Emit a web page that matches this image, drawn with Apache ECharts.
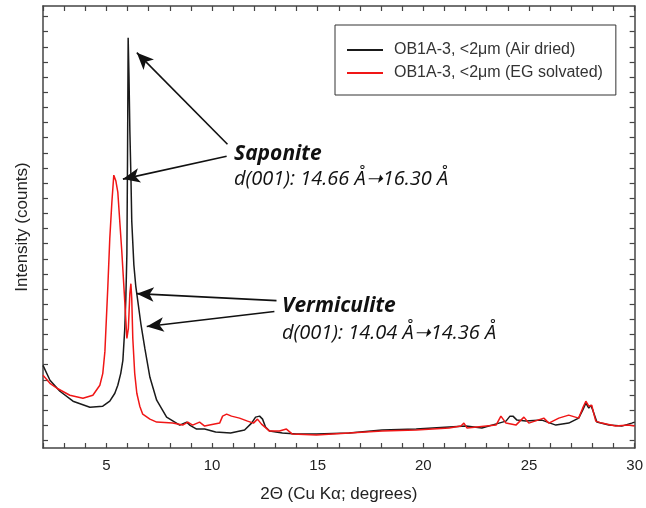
<!DOCTYPE html>
<html>
<head>
<meta charset="utf-8">
<script src="https://cdn.jsdelivr.net/npm/echarts@6/dist/echarts.min.js"></script>
<style>
  html, body { margin: 0; padding: 0; background: #fff; }
  #main { width: 646px; height: 508px; }
</style>
</head>
<body>
<div id="main"></div>
<script>
// 2θ (degrees) and intensity (counts)
var airDried = [
  [2.00,4961],[2.33,3974],[2.80,3250],[3.42,2592],[4.22,2197],[4.83,2263],[5.16,2592],
  [5.40,3118],[5.54,3645],[5.68,4434],[5.78,5290],[5.87,7395],[5.92,9368],[5.97,12329],
  [6.00,18579],[6.03,26605],[6.07,24000],[6.11,20500],[6.16,17500],[6.20,14500],
  [6.30,11600],[6.39,10200],[6.49,9171],[6.63,7724],[6.82,6079],[7.06,4171],[7.38,2658],
  [7.85,1539],[8.47,1013],[8.80,1211],[8.94,1013],[9.27,750],[9.65,750],[10.17,553],
  [10.88,487],[11.54,684],[11.87,1145],[12.06,1539],[12.25,1605],[12.39,1408],[12.53,882],
  [12.72,618],[13.33,487],[13.99,421],[14.94,421],[16.49,487],[18.05,684],[19.66,750],
  [21.22,882],[22.02,947],[22.77,816],[23.58,1145],[23.91,1276],[24.10,1605],[24.24,1605],
  [24.43,1342],[24.85,1276],[25.61,1342],[26.27,1013],[26.88,1145],[27.35,1474],[27.54,2000],
  [27.69,2461],[27.83,2132],[27.92,2329],[28.02,2000],[28.21,1211],[28.78,1013],[29.39,947],
  [29.86,1145],[30.00,1211]
];

var egSolvated = [
  [2.00,4303],[2.33,3776],[2.66,3447],[3.27,2987],[3.89,2790],[4.36,2987],[4.69,3645],
  [4.83,4434],[4.93,5882],[5.07,10224],[5.16,13316],[5.26,15750],[5.35,17526],[5.45,17132],
  [5.54,16408],[5.73,12461],[5.87,9171],[5.97,6737],[6.04,7395],[6.11,9697],[6.16,10355],
  [6.20,9368],[6.25,6737],[6.34,4434],[6.44,3118],[6.58,2263],[6.72,1737],[7.06,1408],
  [7.38,1211],[8.14,1145],[8.61,1013],[8.85,1211],[9.08,1013],[9.41,1211],[9.65,947],
  [9.88,1013],[10.36,1145],[10.50,1605],[10.69,1737],[10.92,1605],[11.30,1474],[11.68,1276],
  [11.96,1145],[12.15,1408],[12.34,1079],[12.72,618],[13.19,618],[13.52,750],[13.80,421],
  [14.94,355],[16.49,487],[18.05,618],[19.66,684],[21.22,816],[21.78,947],[21.92,1145],
  [22.07,816],[23.44,1013],[23.67,1605],[23.91,1145],[24.38,1013],[24.76,1539],[24.99,1145],
  [25.70,1474],[25.94,1145],[26.41,1474],[26.88,1671],[27.35,1474],[27.54,2132],[27.69,2592],
  [27.83,2263],[27.97,2329],[28.06,1803],[28.16,1276],[28.44,1145],[29.10,947],[29.72,1013],
  [30.00,947]
];

var seriesNames = ["OB1A-3, <2\u03bcm (Air dried)", "OB1A-3, <2\u03bcm (EG solvated)"];
var xLabels = [5, 10, 15, 20, 25, 30];
var yTicks = [];
for (var t = 0; t <= 28000; t += 1000) yTicks.push(t);

// annotation arrows: [tail, head] in data coords
var arrows = [
  [[10.73,19566],[6.44,25619]],
  [[10.69,18776],[5.78,17263]],
  [[13.05,9237],[6.44,9697]],
  [[12.95,8513],[6.91,7526]]
];

var AXIS_COLOR = "#444";
var FONT = "Liberation Sans";

var myChart = echarts.init(document.getElementById('main'));

function frameAxis(extra) {
  var base = {
    axisLine: { show: true, onZero: false, lineStyle: { color: AXIS_COLOR, width: 1.5 } },
    axisTick: { show: true, inside: true, length: 5, lineStyle: { color: AXIS_COLOR, width: 1.2 } },
    axisLabel: { show: false },
    splitLine: { show: false }
  };
  return Object.assign(base, extra);
}

var xBase = { type: 'value', min: 2, max: 30, interval: 1 };
var yBase = { type: 'value', min: -500, max: 28700 };

myChart.setOption({
  animation: false,
  backgroundColor: '#fff',
  grid: { left: 43, right: 10, top: 6, bottom: 58 },
  legend: {
    orient: 'vertical',
    left: 335,
    top: 25,
    icon: 'rect',
    itemWidth: 36,
    itemHeight: 2,
    itemGap: 7,
    padding: [17, 13, 14, 12],
    borderColor: '#333',
    borderWidth: 1,
    textStyle: { fontFamily: FONT, fontSize: 16, color: '#333', padding: [0, 0, 0, 6] },
    data: seriesNames
  },
  xAxis: [
    frameAxis(Object.assign({}, xBase, {
      position: 'bottom',
      name: "2\u0398 (Cu K\u03b1; degrees)",
      nameLocation: 'middle',
      nameGap: 38,
      nameTextStyle: { fontFamily: FONT, fontSize: 17, color: '#222' },
      axisLabel: {
        show: true, margin: 10, fontFamily: FONT, fontSize: 15, color: '#222',
        formatter: function (v) { return xLabels.indexOf(v) >= 0 ? String(v) : ''; }
      }
    })),
    frameAxis(Object.assign({}, xBase, { position: 'top' }))
  ],
  yAxis: [
    frameAxis(Object.assign({}, yBase, {
      position: 'left',
      name: "Intensity (counts)",
      nameLocation: 'middle',
      nameGap: 12,
      nameTextStyle: { fontFamily: FONT, fontSize: 17, color: '#222' },
      axisTick: { show: true, inside: true, length: 5, customValues: yTicks, lineStyle: { color: AXIS_COLOR, width: 1.2 } }
    })),
    frameAxis(Object.assign({}, yBase, {
      position: 'right',
      axisTick: { show: true, inside: true, length: 5, customValues: yTicks, lineStyle: { color: AXIS_COLOR, width: 1.2 } }
    }))
  ],
  series: [
    {
      name: seriesNames[0],
      type: 'line',
      data: airDried,
      symbol: 'none',
      lineStyle: { color: '#1a1a1a', width: 1.5 },
      itemStyle: { color: '#1a1a1a' },
      z: 2,
      markLine: {
        silent: true,
        symbol: ['none', 'arrow'],
        symbolSize: [11, 17],
        lineStyle: { color: '#111', width: 1.6, type: 'solid' },
        label: { show: false },
        data: arrows.map(function (a) {
          return [{ coord: a[0] }, { coord: a[1] }];
        })
      }
    },
    {
      name: seriesNames[1],
      type: 'line',
      data: egSolvated,
      symbol: 'none',
      lineStyle: { color: '#f01616', width: 1.5 },
      itemStyle: { color: '#f01616' },
      z: 3
    }
  ],
  graphic: [
    { type: 'text', left: 234, top: 144, style: { text: 'Saponite', font: 'italic bold 21px "Open Sans"', fill: '#111' } },
    { type: 'text', left: 234, top: 169, style: { text: 'd(001): 14.66 \u00c5\u279d16.30 \u00c5', font: 'italic 20px "Open Sans"', fill: '#111' } },
    { type: 'text', left: 282, top: 296, style: { text: 'Vermiculite', font: 'italic bold 21px "Open Sans"', fill: '#111' } },
    { type: 'text', left: 282, top: 323, style: { text: 'd(001): 14.04 \u00c5\u279d14.36 \u00c5', font: 'italic 20px "Open Sans"', fill: '#111' } }
  ]
});

window.onresize = myChart.resize;
</script>
</body>
</html>
